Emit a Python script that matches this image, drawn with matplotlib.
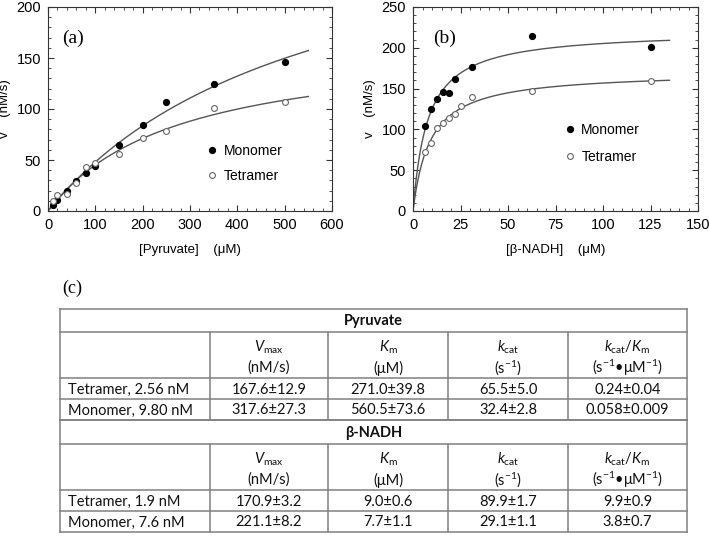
import numpy as np
import matplotlib
matplotlib.use('Agg')
import matplotlib.pyplot as plt
from matplotlib.ticker import MultipleLocator

plt.rcParams['font.family'] = ['Liberation Sans', 'DejaVu Sans']
plt.rcParams['mathtext.fontset'] = 'custom'
plt.rcParams['mathtext.rm'] = 'Lato'
plt.rcParams['mathtext.it'] = 'Lato:italic'

# (a) pyruvate titration
pyr_mono_x = [10, 20, 40, 60, 80, 100, 150, 200, 250, 350, 500]
pyr_mono_v = [5.6, 10.5, 20, 29, 37, 44.5, 65, 84, 106.5, 125, 146]
pyr_tetra_x = [10, 20, 40, 60, 80, 100, 150, 200, 250, 350, 500]
pyr_tetra_v = [10, 15.5, 16.5, 27.5, 43, 47.5, 55.5, 72, 78, 100.5, 106.5]

# (b) NADH titration
nadh_mono_x = [6.25, 9.375, 12.5, 15.625, 18.75, 21.875, 31.25, 62.5, 125]
nadh_mono_v = [104, 125.4, 137, 146, 144.7, 161.5, 176.6, 215, 200.8]
nadh_tetra_x = [6.25, 9.375, 12.5, 15.625, 18.75, 21.875, 25, 31.25, 62.5, 125]
nadh_tetra_v = [72.5, 82.8, 101.6, 107.4, 114, 119, 129, 139.3, 147, 159]

# fitted Michaelis-Menten parameters (tetramer, monomer)
pyr_vmax = [167.6, 317.6]
pyr_km = [271.0, 560.5]
nadh_vmax = [170.9, 221.1]
nadh_km = [9.0, 7.7]

# (c) table
col_heads = ['$V_{\\mathrm{max}}$', '$K_{\\mathrm{m}}$', '$k_{\\mathrm{cat}}$',
             '$k_{\\mathrm{cat}}/K_{\\mathrm{m}}$']
col_units = ['(nM/s)', '(μM)', '(s$^{\\mathrm{-1}}$)',
             '(s$^{\\mathrm{-1}}$•μM$^{\\mathrm{-1}}$)']
pyr_rows = ['Tetramer, 2.56 nM', 'Monomer, 9.80 nM']
pyr_vals = [['167.6±12.9', '271.0±39.8', '65.5±5.0', '0.24±0.04'],
            ['317.6±27.3', '560.5±73.6', '32.4±2.8', '0.058±0.009']]
nadh_rows = ['Tetramer, 1.9 nM', 'Monomer, 7.6 nM']
nadh_vals = [['170.9±3.2', '9.0±0.6', '89.9±1.7', '9.9±0.9'],
             ['221.1±8.2', '7.7±1.1', '29.1±1.1', '3.8±0.7']]

fig = plt.figure(figsize=(7.09, 5.36), dpi=100)


def kinetics_panel(rect, mono_x, mono_v, tetra_x, tetra_v, vmax, km, smax,
                   xmax, ymax, xmaj, xmin, xlabel, tag, tag_x, leg_anchor, leg_sp):
    ax = fig.add_axes(rect)
    s = np.linspace(0, smax, 300)
    for vm, k in zip(vmax, km):
        ax.plot(s, vm * s / (k + s), color='#555555', lw=1.0)
    ax.plot(mono_x, mono_v, 'o', ms=4.2, mfc='black', mec='black', label='Monomer')
    ax.plot(tetra_x, tetra_v, 'o', ms=4.2, mfc='white', mec='#666666', mew=0.8,
            label='Tetramer')
    ax.set_xlim(0, xmax)
    ax.set_ylim(0, ymax)
    ax.xaxis.set_major_locator(MultipleLocator(xmaj))
    ax.xaxis.set_minor_locator(MultipleLocator(xmin))
    ax.yaxis.set_major_locator(MultipleLocator(50))
    ax.yaxis.set_minor_locator(MultipleLocator(10))
    ax.tick_params(which='both', direction='in', top=True, right=True,
                   labelsize=10.5, color='#333333', pad=5)
    ax.tick_params(which='major', length=4)
    ax.tick_params(which='minor', length=2.5)
    for sp in ax.spines.values():
        sp.set_color('#333333')
    ax.set_xlabel(xlabel, fontsize=9.5, labelpad=9)
    ax.set_ylabel('v    (nM/s)', fontsize=9.5, labelpad=4)
    ax.text(tag_x, 0.845, tag, transform=ax.transAxes, family='Liberation Serif',
            fontsize=14, va='center')
    ax.legend(loc='upper left', bbox_to_anchor=leg_anchor, frameon=False,
              fontsize=10, handletextpad=0.2, labelspacing=leg_sp,
              handlelength=1.2, borderaxespad=0)
    return ax


kinetics_panel([48 / 709, 1 - 211 / 536, 284 / 709, 204 / 536],
               pyr_mono_x, pyr_mono_v, pyr_tetra_x, pyr_tetra_v,
               pyr_vmax, pyr_km, 550, 600, 200, 100, 20,
               '[Pyruvate]    (μM)', '(a)', 0.05, (0.53, 0.355), 0.75)
kinetics_panel([413 / 709, 1 - 211 / 536, 285 / 709, 204 / 536],
               nadh_mono_x, nadh_mono_v, nadh_tetra_x, nadh_tetra_v,
               nadh_vmax, nadh_km, 135, 150, 250, 25, 5,
               '[β-NADH]    (μM)', '(b)', 0.07, (0.503, 0.46), 0.95)

fig.text(62 / 709, 1 - 288 / 536, '(c)', family='Liberation Serif', fontsize=13,
         va='center')

# table drawn in pixel space
tab = fig.add_axes([0, 0, 1, 1])
tab.set_xlim(0, 709)
tab.set_ylim(536, 0)
tab.axis('off')

cols = [60, 210, 328, 448, 568, 687]
blocks = [(309, 332, 378, 399, 420, 'Pyruvate', pyr_rows, pyr_vals),
          (420, 444, 490, 511, 532, 'β-NADH', nadh_rows, nadh_vals)]
lc = '#808080'
lw = 1.1
tfont = dict(family=['Lato', 'DejaVu Sans'], fontsize=10.5, color='#111111')

for top, hb, r1, r2, bot, title, rows, vals in blocks:
    for y in (top, hb, r1, r2, bot):
        tab.plot([cols[0], cols[-1]], [y, y], color=lc, lw=lw)
    tab.plot([cols[0], cols[0]], [top, bot], color=lc, lw=lw)
    tab.plot([cols[-1], cols[-1]], [top, bot], color=lc, lw=lw)
    for x in cols[1:-1]:
        tab.plot([x, x], [hb, bot], color=lc, lw=lw)
    tab.text((cols[0] + cols[-1]) / 2, (top + hb) / 2 + 1, title, ha='center',
             va='center', weight='bold', **tfont)
    for i in range(4):
        cx = (cols[i + 1] + cols[i + 2]) / 2
        tab.text(cx, hb + 15, col_heads[i], ha='center', va='center', **tfont)
        tab.text(cx, hb + 36, col_units[i], ha='center', va='center', **tfont)
    for j, (ya, yb) in enumerate([(r1, r2), (r2, bot)]):
        tab.text(cols[0] + 8, (ya + yb) / 2 + 1, rows[j], ha='left', va='center',
                 **tfont)
        for i in range(4):
            cx = (cols[i + 1] + cols[i + 2]) / 2
            tab.text(cx, (ya + yb) / 2 + 1, vals[j][i], ha='center', va='center',
                     **tfont)

fig.savefig('out.png', dpi=100)
